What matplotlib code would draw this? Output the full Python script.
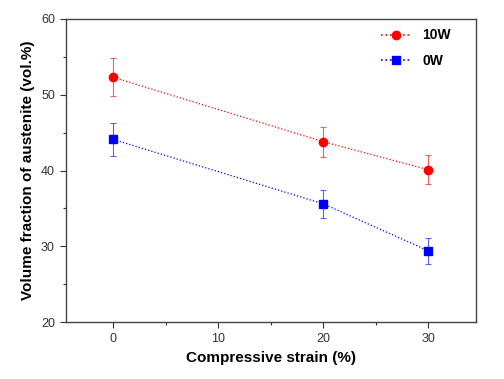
import numpy as np
import matplotlib
matplotlib.use("Agg")
import matplotlib.pyplot as plt
from matplotlib.ticker import MultipleLocator
from matplotlib.lines import Line2D

plt.rcParams['font.family'] = ['Liberation Sans', 'DejaVu Sans']

# data
strain = [0, 20, 30]
w10 = [52.3, 43.8, 40.1]
w10_err = [2.5, 2.0, 1.9]
w0 = [44.1, 35.6, 29.4]
w0_err = [2.2, 1.9, 1.7]

fig = plt.figure(figsize=(5.04, 3.79), dpi=100)
ax = fig.add_axes([0.131, 0.150, 0.813, 0.800])

ax.errorbar(strain, w10, yerr=w10_err, color='red', ecolor='#f06060', marker='o',
            ms=6, ls=':', lw=0.9, elinewidth=0.8, capsize=2.5, capthick=0.8)
ax.errorbar(strain, w0, yerr=w0_err, color='blue', ecolor='#6060f0', marker='s',
            ms=5.5, ls=':', lw=0.9, elinewidth=0.8, capsize=2.5, capthick=0.8)

ax.set_xlim(-4.5, 34.5)
ax.set_ylim(20, 60)
ax.xaxis.set_major_locator(MultipleLocator(10))
ax.xaxis.set_minor_locator(MultipleLocator(5))
ax.yaxis.set_major_locator(MultipleLocator(10))
ax.yaxis.set_minor_locator(MultipleLocator(5))
ax.tick_params(which='both', direction='out', colors='#333333', labelsize=9, width=0.8)
ax.tick_params(which='major', length=4, pad=4)
ax.tick_params(which='minor', length=2.5)
for s in ax.spines.values():
    s.set_color('#444444')
    s.set_linewidth(1)

ax.set_xlabel('Compressive strain (%)', fontsize=11, fontweight='bold')
ax.set_ylabel('Volume fraction of austenite (vol.%)', fontsize=11, fontweight='bold')

handles = [
    Line2D([], [], color='red', marker='o', ms=6, ls=':', lw=1.2),
    Line2D([], [], color='blue', marker='s', ms=5.5, ls=':', lw=1.2),
]
ax.legend(handles, ['10W', '0W'], loc='upper right', bbox_to_anchor=(0.97, 1.01),
          frameon=False, handlelength=2.2, labelspacing=0.85,
          prop={'weight': 'bold', 'size': 10})

fig.savefig('out.png', dpi=100)
